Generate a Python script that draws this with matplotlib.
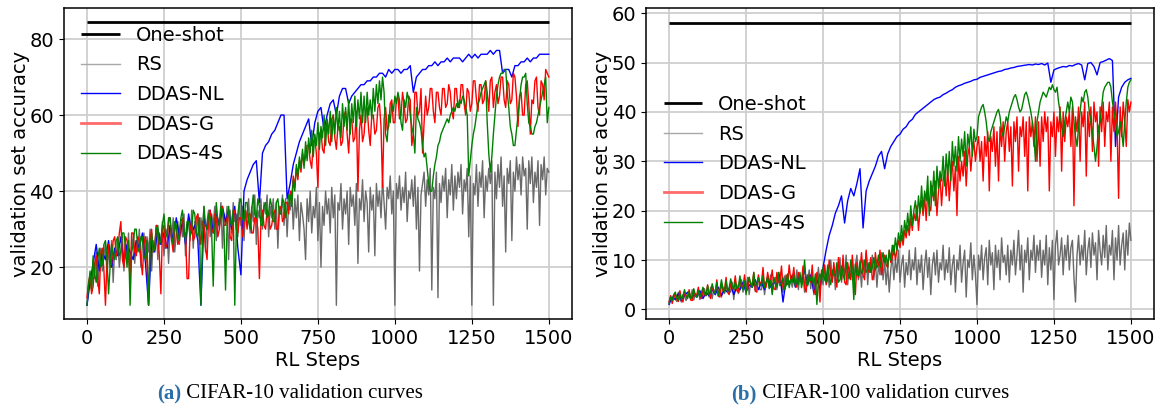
import numpy as np
import matplotlib
matplotlib.use("Agg")
import matplotlib.pyplot as plt

# ---------------- data ----------------
# noisy series sampled every 5 RL steps, DDAS-NL every 10 steps (0..1500)
STEP_MAX = 1500

c10_oneshot = 84.4
c10_rs = [10, 15, 18, 14, 22, 17, 24, 15, 21, 25, 19, 23, 26, 18, 24, 21, 27, 16, 25, 22,
          27, 20, 24, 28, 19, 26, 23, 29, 17, 25, 28, 21, 27, 24, 30, 20, 26, 29, 22, 28,
          24, 30, 19, 27, 25, 31, 22, 29, 26, 32, 23, 28, 30, 21, 31, 27, 33, 24, 29, 32,
          26, 31, 28, 34, 23, 30, 33, 27, 35, 25, 32, 29, 34, 26, 33, 30, 36, 24, 32, 35,
          28, 34, 31, 36, 27, 33, 30, 37, 25, 34, 31, 36, 22, 35, 29, 37, 32, 34, 28, 38,
          31, 36, 27, 35, 33, 38, 29, 36, 32, 39, 26, 35, 33, 38, 30, 37, 34, 39, 28, 36,
          33, 38, 30, 37, 25, 36, 34, 39, 31, 38, 28, 37, 35, 40, 30, 38, 33, 39, 27, 37,
          34, 30, 22, 38, 32, 40, 29, 36, 33, 41, 27, 37, 20, 36, 31, 40, 34, 38, 29, 41,
          33, 39, 10, 37, 35, 42, 30, 38, 34, 40, 26, 41, 36, 39, 31, 42, 21, 38, 35, 43,
          32, 40, 37, 24, 41, 35, 39, 23, 42, 36, 40, 33, 43, 37, 30, 41, 38, 44, 34, 40,
          10, 42, 38, 44, 35, 41, 37, 45, 32, 40, 38, 43, 36, 44, 30, 41, 19, 39, 42, 45,
          36, 43, 39, 46, 14, 41, 38, 45, 12, 42, 37, 44, 40, 46, 33, 43, 39, 47, 35, 44,
          38, 45, 41, 47, 34, 43, 40, 46, 28, 44, 10, 42, 39, 47, 36, 45, 41, 48, 33, 44,
          40, 46, 42, 48, 10, 45, 38, 47, 41, 49, 36, 44, 24, 46, 42, 48, 27, 45, 40, 49,
          43, 47, 39, 49, 44, 46, 30, 48, 42, 49, 37, 45, 41, 48, 31, 47, 43, 49, 39, 46,
          45]
c10_nl = [10, 16, 21, 26, 19, 24, 22, 27, 20, 25, 23, 28, 21, 26, 24,
          22, 27, 25, 29, 21, 10, 27, 24, 30, 26, 29, 25, 31, 27, 33,
          28, 32, 26, 34, 29, 31, 27, 10, 33, 30, 35, 29, 34, 31, 36,
          32, 35, 30, 36, 25, 18, 40, 43, 45, 47, 48, 37, 50, 52, 53,
          55, 56, 58, 60, 60, 38, 42, 47, 50, 53, 55, 57, 59, 52, 58,
          61, 62, 56, 60, 63, 64, 60, 65, 67, 67, 63, 65, 66, 67, 68,
          68, 69, 69, 70, 70, 71, 71, 70, 72, 71, 72, 72, 71, 72, 72,
          73, 66, 70, 71, 72, 72, 73, 73, 74, 73, 74, 74, 75, 74, 75,
          75, 75, 74, 75, 76, 75, 76, 75, 76, 76, 76, 77, 76, 77, 77,
          71, 72, 72, 70, 73, 73, 74, 74, 75, 74, 75, 75, 76, 76, 76,
          76]
c10_g = [12, 16, 18, 13, 15, 21, 23, 17, 13, 24, 25, 19, 10, 22, 26, 20, 21, 27, 28, 23,
         24, 29, 32, 22, 20, 28, 27, 23, 17, 29, 29, 24, 23, 28, 27, 22, 18, 26, 28, 21,
         10, 27, 30, 24, 25, 31, 29, 23, 13, 30, 31, 25, 26, 32, 33, 27, 24, 31, 30, 26,
         27, 32, 33, 28, 29, 17, 17, 30, 32, 27, 28, 33, 34, 29, 26, 32, 31, 25, 22, 33,
         35, 30, 29, 34, 33, 28, 30, 35, 36, 31, 31, 33, 34, 28, 27, 34, 35, 30, 29, 33,
         33, 28, 31, 35, 30, 34, 34, 29, 29, 33, 33, 30, 17, 32, 35, 31, 30, 35, 34, 30,
         31, 34, 35, 30, 30, 35, 36, 32, 33, 37, 37, 34, 40, 38, 44, 41, 46, 43, 48, 45,
         50, 47, 49, 52, 52, 48, 46, 53, 54, 50, 41, 55, 56, 51, 50, 57, 58, 53, 52, 59,
         60, 54, 51, 57, 57, 52, 53, 60, 61, 55, 50, 58, 59, 53, 54, 61, 40, 56, 60, 53,
         55, 61, 62, 56, 52, 60, 60, 55, 56, 62, 63, 57, 41, 59, 62, 56, 57, 63, 64, 58,
         58, 64, 65, 59, 60, 66, 63, 58, 59, 65, 64, 52, 55, 66, 66, 60, 61, 67, 50, 58,
         65, 60, 62, 67, 67, 61, 58, 66, 66, 62, 60, 67, 67, 62, 63, 68, 66, 61, 59, 67,
         67, 62, 62, 68, 68, 63, 60, 67, 66, 61, 63, 69, 69, 64, 61, 68, 68, 63, 64, 69,
         66, 61, 69, 70, 62, 66, 68, 63, 65, 70, 70, 64, 62, 69, 68, 63, 64, 71, 70, 65,
         57, 65, 66, 60, 60, 68, 69, 63, 55, 64, 63, 69, 70, 62, 60, 69, 68, 64, 72, 71,
         70]
c10_4s = [10, 15, 19, 14, 23, 18, 16, 22, 25, 20, 21, 26, 27, 22, 13, 20, 26, 23, 22, 27,
          28, 23, 24, 29, 29, 25, 20, 27, 10, 24, 26, 30, 30, 25, 24, 28, 28, 23, 22, 27,
          10, 25, 29, 24, 25, 30, 31, 26, 27, 31, 34, 29, 28, 33, 33, 28, 26, 32, 31, 27,
          29, 33, 35, 30, 27, 32, 32, 28, 30, 35, 34, 29, 28, 33, 10, 27, 36, 31, 30, 34,
          33, 29, 15, 30, 37, 32, 31, 36, 35, 30, 14, 31, 36, 32, 31, 35, 10, 30, 34, 37,
          38, 33, 32, 37, 37, 32, 30, 35, 39, 34, 33, 38, 36, 31, 31, 36, 37, 33, 34, 38,
          36, 32, 32, 37, 38, 34, 34, 38, 37, 33, 35, 39, 39, 36, 43, 40, 47, 44, 49, 46,
          51, 46, 53, 48, 54, 50, 56, 49, 55, 52, 58, 51, 57, 54, 60, 52, 59, 55, 61, 53,
          60, 55, 62, 56, 61, 54, 63, 57, 62, 56, 64, 55, 63, 58, 65, 57, 64, 59, 66, 58,
          65, 58, 66, 60, 64, 59, 67, 61, 68, 63, 69, 64, 70, 66, 55, 53, 60, 58, 63, 61,
          65, 63, 66, 64, 58, 56, 64, 62, 66, 64, 60, 57, 55, 50, 62, 59, 58, 56, 52, 49,
          50, 46, 42, 40, 40, 44, 47, 49, 52, 53, 55, 56, 57, 58, 59, 58, 60, 61, 62, 61,
          63, 62, 64, 63, 65, 64, 62, 60, 44, 48, 52, 55, 57, 60, 63, 64, 66, 67, 68, 69,
          58, 50, 45, 49, 55, 60, 65, 68, 70, 71, 71, 72, 72, 66, 62, 57, 55, 52, 52, 56,
          60, 64, 68, 70, 70, 71, 63, 58, 57, 55, 55, 57, 58, 60, 62, 64, 66, 68, 70, 58,
          62]

c100_oneshot = 58.1
c100_rs = [1.5, 2.5, 1.8, 3, 2.2, 1.6, 3.5, 2, 1.5, 3, 2.8, 1.8, 2.5, 3.6, 2.2, 4, 1.9, 3.2, 2.6, 3.8,
           2, 3.5, 2.6, 4.2, 2.8, 3.4, 2.5, 4.5, 2.2, 4, 3, 5, 2.6, 3.8, 2.5, 4.5, 3.2, 5, 3.5, 4.2,
           3.5, 5.5, 2, 4.8, 5, 3.2, 4, 6, 3.5, 5, 4.5, 6.5, 3, 5.5, 4.5, 6, 3.6, 5.2, 6.5, 4,
           4, 6, 3, 5.5, 6, 4.5, 7, 3.5, 5.5, 6.5, 4, 6, 7.5, 5, 3.5, 6.8, 4.8, 7, 5.2, 6,
           4.5, 6.5, 5, 8, 4, 7, 5.5, 7.5, 3.5, 6.5, 5.8, 8, 4.2, 7, 3, 6, 5.5, 8.5, 4.5, 7,
           5, 9, 6, 8, 4.5, 10, 6, 8.5, 4, 9, 6.5, 10.5, 5.5, 9, 7, 11, 5, 8.5, 6.5, 10,
           5, 9, 11, 6, 8.5, 4.5, 10, 7, 11.5, 5, 9.5, 7.5, 11, 6, 10, 4.5, 9, 7, 11.5, 6,
           10, 5, 9, 3.5, 8, 11, 6, 10, 7.5, 12, 5.5, 9, 11, 4.5, 9.5, 7, 12, 6, 10, 8,
           12.5, 5, 10, 7.5, 11, 4, 9, 12, 6.5, 10.5, 3, 9, 11.5, 7, 12, 5.5, 9.5, 8, 13, 6,
           10, 7.5, 12.5, 5, 9, 11, 3.5, 10, 8, 13, 5.5, 9.5, 12, 2.5, 10, 8.5, 13.5, 6, 11, 7,
           1, 11, 8, 13, 6, 10.5, 12.5, 5, 14, 9, 11.5, 4, 13, 8.5, 12, 6, 14.5, 9.5, 11, 7,
           13, 5.5, 12, 9, 14, 7, 11, 16, 8, 13, 3.5, 12, 9.5, 14.5, 6, 12, 10, 15, 7.5, 13,
           10, 14, 6.5, 12, 9, 15, 5, 12.5, 8, 14, 2, 13, 16, 9, 11, 14.5, 7, 13, 10, 15,
           8, 12.5, 14, 6.5, 1.5, 11, 15, 9, 13, 10, 16, 7, 12, 14.5, 8.5, 15.5, 11, 13.5, 6, 16,
           12, 9, 15, 10.5, 17, 8, 13, 11, 16, 6, 14.5, 10, 17, 9, 13, 15.5, 8, 16, 11, 17.5,
           14]
c100_nl = [1, 2.5, 2, 3.2, 1.8, 2.8, 3.5, 2.2, 3, 2.5, 3.8, 2.2, 3.4, 2.8, 4,
           3, 4.5, 2.8, 4, 3.5, 5, 3, 4.5, 4, 5.5, 3.5, 5, 4.5, 6, 4,
           5.5, 4, 6.5, 4.5, 5.5, 5, 7, 1.5, 6, 5, 7, 4.5, 6.5, 5.5, 8,
           5, 7, 3.5, 6, 4, 8.5, 12, 15, 17, 19.5, 21, 23, 17.5, 22, 24.5,
           23, 25.5, 28.5, 16.5, 24, 26, 27.5, 29, 31, 32, 28.5, 31.5, 33, 34, 35,
           35.5, 36.5, 37, 38, 38.5, 39.5, 40, 40.5, 41, 41.5, 42, 42.5, 42.8, 43, 43.5,
           43.8, 44.2, 44.5, 45, 45.3, 45.5, 45.8, 46, 46.2, 46.5, 46.6, 47, 47.2, 47.4, 47.6,
           47.8, 48, 48.2, 48.3, 48.6, 48.7, 48.9, 49, 49.2, 49.3, 49.4, 49.5, 49.6, 49.5, 49.7,
           49.6, 49.8, 49.5, 49.9, 46, 48.5, 48.8, 49, 49.2, 49.1, 49.4, 49.3, 49.6, 49.8, 49.5,
           46.5, 49.8, 50, 49.2, 47.5, 50, 50.2, 50.5, 50.8, 50.4, 33, 43, 45, 46, 46.5,
           46.8]
c100_g = [1.5, 2.8, 1.2, 2.4, 3.2, 2, 1.6, 3.8, 2.2, 1.5, 3.5, 2.8, 2.5, 4, 1.9, 1.8, 3.8, 2.6, 3, 4.5,
          2.6, 2.2, 4.2, 3, 2.8, 5, 3.2, 2.2, 4.8, 3.6, 3.5, 6, 2.8, 2.5, 5.2, 3.8, 4, 6.5, 3.5, 3,
          5.5, 4.2, 4.5, 6.8, 3.8, 3.5, 6.2, 4.5, 4.5, 7, 4.2, 4, 6.5, 5, 5, 7.5, 3.8, 3.5, 7, 5.2,
          5.5, 8.5, 4.5, 4.5, 7.5, 5.8, 6, 8, 4.2, 4, 7.5, 5.5, 5.5, 8.8, 4.5, 4, 7, 5, 9, 6,
          6, 8.5, 5, 4.5, 7.5, 6.2, 5.5, 8.8, 4.5, 3.5, 7, 6, 5.5, 9, 4, 3, 7.5, 6, 1.5, 8,
          6.5, 9, 5, 6, 10, 7, 5.5, 9.5, 6.5, 4.5, 10.5, 7, 6, 11, 5.5, 5, 9.5, 7.5, 6, 11,
          7, 3, 9.5, 6.5, 8, 11.5, 7, 6, 12, 8, 7.5, 10.5, 6, 7, 11.5, 8.5, 9, 12, 7, 9.5,
          11, 9, 8.5, 12, 9.5, 10.5, 13, 10, 12, 14, 12.5, 15, 13, 16, 14.5, 17, 15, 18.5, 16, 19.5,
          18, 21, 16, 20, 22, 19, 23, 18, 24, 21, 20, 25, 22, 26, 19, 24, 27, 21, 26, 28,
          23, 29, 22, 27, 30, 24, 29, 19, 31, 26, 30, 27, 32, 25, 31, 33, 28, 32, 34, 30,
          33, 35, 30, 34, 26, 35, 31, 36, 24, 35, 32, 37, 29, 36, 26, 37, 33, 38, 30, 36,
          38, 32, 37, 25, 38, 34, 39, 28, 37, 35, 39, 31, 38, 24, 39, 35, 38, 33, 39, 30,
          38, 29, 39, 34, 40, 36, 39, 24, 38, 35, 40, 31, 39, 36, 41, 28, 40, 34, 39, 37,
          40, 33, 41, 21, 39, 36, 41, 30, 40, 37, 42, 27, 40, 35, 41, 32, 42, 38, 40, 29,
          41, 36, 42, 33, 40, 38, 42, 30, 41, 36, 42, 37, 22.5, 41, 35, 42, 38, 33, 42.5, 40,
          42]
c100_4s = [1.2, 2.5, 1.8, 3, 3.5, 2.3, 1.9, 3.2, 2, 2.8, 4, 2.6, 2.2, 3.6, 2.2, 2.6, 4.2, 3, 2.5, 3.8,
           2.5, 3.4, 4.5, 3.2, 2.8, 4.8, 3, 3.6, 5.2, 3.8, 3.2, 5.5, 2.8, 4, 6, 4.2, 3.5, 5.8, 3.6, 4.4,
           6.2, 4.8, 4, 5.6, 4.2, 4.6, 6.8, 4.6, 4, 5.8, 3, 5.5, 6.5, 5.2, 4.5, 7.5, 4.8, 5.2, 6.4, 5,
           4.8, 6.8, 4.4, 5.5, 6.6, 4.2, 5.8, 3, 6.5, 5.2, 4.5, 7.5, 4.8, 5.2, 6.4, 4, 5, 7.2, 4.4, 6,
           5.5, 7, 4.8, 6.2, 5, 7.5, 4.4, 6, 10, 5.5, 4.8, 7, 5.8, 6.5, 4.8, 7.2, 1, 6, 7.2, 5.8,
           8.5, 6, 5.5, 9, 6.5, 5, 8, 7, 6.8, 9.5, 5.5, 6, 8.8, 7, 6, 9.5, 7.5, 6.2, 10, 7.5,
           2, 9.2, 7, 6.8, 9.8, 7.2, 8, 10, 7.5, 8, 9.5, 7.5, 8.5, 10.5, 8, 9, 11, 8.5, 10, 11.5,
           9.5, 11, 8.5, 12, 10, 13, 11, 14.5, 12, 15.5, 13.5, 17, 14, 18, 15.5, 19.5, 16, 21, 17, 20,
           22, 18, 23, 19.5, 25, 20, 24, 22, 27, 19, 26, 23, 28, 21, 29, 24.5, 28, 26, 31, 25,
           31.5, 27, 32, 26, 34, 29, 33, 28, 35, 30, 34.5, 31, 36, 29, 35.5, 33, 37, 31, 36.5, 34,
           35, 39, 40, 41, 41.5, 40, 38, 35, 34, 36, 37, 38, 39, 40, 40.5, 39, 36, 35, 37, 39,
           38, 40, 41, 42, 43, 43.5, 42.5, 41, 40, 40.5, 42, 43.5, 44, 43, 41.5, 40, 38, 35, 30, 38,
           40, 42, 43, 44, 43.5, 43, 44, 45, 44.5, 45.5, 44.5, 44, 45, 42, 40, 37, 35, 38, 40, 42,
           40, 43, 42, 38, 35, 33, 37, 40, 43, 42, 44, 44.5, 43, 40, 38, 36, 33, 30, 33, 37,
           38, 41, 44, 45, 45.5, 46, 46, 45, 42, 40, 38, 35, 36, 38, 36, 33, 38, 42, 45, 46,
           46.5]

labels = ["One-shot", "RS", "DDAS-NL", "DDAS-G", "DDAS-4S"]
colors = ["black", "#6a6a6a", "blue", "red", "green"]
legend_colors = ["black", "#a8a8a8", "blue", "#ff6a6a", "green"]
captions = [("(a)", " CIFAR-10 validation curves"),
            ("(b)", " CIFAR-100 validation curves")]

# ---------------- figure ----------------
fig = plt.figure(figsize=(11.64, 4.09), dpi=100)
ax1 = fig.add_axes([0.0549, 0.2193, 0.4364, 0.7606])
ax2 = fig.add_axes([0.5550, 0.2193, 0.4364, 0.7606])

panels = [
    (ax1, c10_oneshot, [c10_rs, c10_nl, c10_g, c10_4s], (6.3, 88.1), 'upper left'),
    (ax2, c100_oneshot, [c100_rs, c100_nl, c100_g, c100_4s], (-2.0, 61.0), 'center left'),
]

for ax, one, series, ylim, loc in panels:
    ax.hlines(one, 0, STEP_MAX, colors=colors[0], lw=2.0, label=labels[0], zorder=3)
    for s, lab, col in zip(series, labels[1:], colors[1:]):
        st = np.linspace(0, STEP_MAX, len(s))
        ax.plot(st, s, color=col, lw=1.0, label=lab)
    ax.set_xlim(-75, 1575)
    ax.set_ylim(*ylim)
    ax.set_xticks([0, 250, 500, 750, 1000, 1250, 1500])
    ax.grid(True, color="#cfcfcf", lw=1.3)
    ax.set_axisbelow(True)
    ax.tick_params(labelsize=14)
    ax.set_xlabel("RL Steps", fontsize=14, labelpad=2)
    ax.set_ylabel("validation set accuracy", fontsize=14, labelpad=0)
    for sp in ax.spines.values():
        sp.set_linewidth(1.1)
    leg = ax.legend(loc=loc, frameon=False, fontsize=14, labelspacing=0.55,
                    handlelength=2.0, handletextpad=0.8)
    for h, c in zip(leg.legend_handles, legend_colors):
        h.set_color(c)
    leg.legend_handles[3].set_linewidth(2.0)

ax2.set_yticks([0, 10, 20, 30, 40, 50, 60])

# captions
fig.canvas.draw()
renderer = fig.canvas.get_renderer()
for (tag, rest), cx in zip(captions, [290, 870]):
    y = 1 - 394 / 409
    t1 = fig.text(0, y, tag, fontsize=15, family="Liberation Serif", fontweight="bold",
                  color="#2a6fa8", ha="left", va="center")
    t2 = fig.text(0, y, rest, fontsize=15, family="Liberation Serif", color="black",
                  ha="left", va="center")
    w1 = t1.get_window_extent(renderer).width
    w2 = t2.get_window_extent(renderer).width
    x0 = cx - (w1 + w2) / 2
    t1.set_x(x0 / 1164)
    t2.set_x((x0 + w1) / 1164)

fig.savefig("out.png", dpi=100)
